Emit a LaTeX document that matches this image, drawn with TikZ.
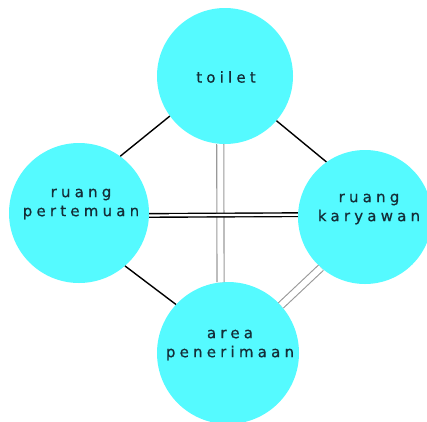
\documentclass[tikz,border=0pt]{standalone}
\usepackage{fontspec}
\newfontfamily\lblfont[LetterSpace=28,FakeBold=0.6]{DejaVu Sans}
\definecolor{bub}{RGB}{85,250,255}
\definecolor{txt}{RGB}{20,45,55}
\begin{document}
\begin{tikzpicture}[x=1pt,y=-1pt,
  room/.style={circle,fill=bub,draw=none,inner sep=0pt},
  lbl/.style={font=\lblfont\fontsize{15}{19}\selectfont,text=txt,align=center,inner sep=0pt},
  solid link/.style={line width=1.4pt,black},
  grey link/.style={draw=gray!80,line width=1.1pt,double=white,double distance=6pt},
  black link/.style={draw=black,line width=1.4pt,double=white,double distance=2.2pt}]
\useasboundingbox (0,0) rectangle (427,421);
\node[room,minimum size=136pt] (toilet) at (225,76) {};
\node[room,minimum size=140pt] (left) at (79,213) {};
\node[room,minimum size=134pt] (right) at (365,217) {};
\node[room,minimum size=142pt] (bottom) at (228,353) {};
\node[lbl] (t1) at (226,77) {toilet};
\node[lbl] (t2) at (81,204) {ruang\\pertemuan};
\node[lbl] (t3) at (369,209) {ruang\\karyawan};
\node[lbl] (t4) at (230,345) {area\\penerimaan};
\draw[solid link] (toilet.216) -- (left.54);
\draw[solid link] (toilet.319) -- (right.125);
\draw[solid link] (left.311) -- (bottom.137);
\draw[grey link] (toilet.266) -- (bottom.96);
\draw[black link] (left.-2) -- (right.178);
\draw[grey link] (right.229) -- (bottom.42);
\end{tikzpicture}
\end{document}
